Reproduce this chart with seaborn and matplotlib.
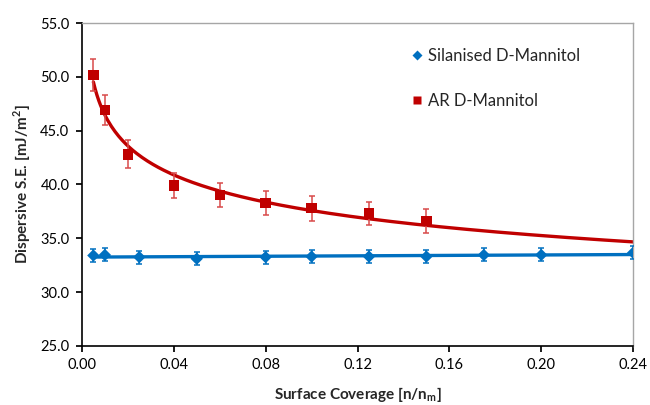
import numpy as np
import pandas as pd
import matplotlib
matplotlib.use("Agg")
import matplotlib.pyplot as plt
import seaborn as sns

# Data
sil_x = [0.005, 0.01, 0.025, 0.05, 0.08, 0.10, 0.125, 0.15, 0.175, 0.20, 0.24]
sil_y = [33.4, 33.45, 33.25, 33.1, 33.25, 33.3, 33.3, 33.3, 33.45, 33.45, 33.65]
sil_err = [0.6, 0.6, 0.6, 0.6, 0.6, 0.6, 0.6, 0.6, 0.6, 0.6, 0.6]

ar_x = [0.005, 0.01, 0.02, 0.04, 0.06, 0.08, 0.10, 0.125, 0.15]
ar_y = [50.2, 46.95, 42.8, 39.9, 39.0, 38.3, 37.8, 37.3, 36.6]
ar_err = [1.5, 1.4, 1.3, 1.2, 1.1, 1.1, 1.15, 1.1, 1.1]

xticks = [0.00, 0.04, 0.08, 0.12, 0.16, 0.20, 0.24]
yticks = [25.0, 30.0, 35.0, 40.0, 45.0, 50.0, 55.0]

blue = "#0070C0"
red = "#C00000"

sns.set_theme(style="white")
plt.rcParams['font.family'] = ['Lato', 'DejaVu Sans']
plt.rcParams['mathtext.fontset'] = 'custom'
plt.rcParams['mathtext.bf'] = 'Lato:bold'
plt.rcParams['mathtext.rm'] = 'Lato:bold'

fig = plt.figure(figsize=(6.5, 4.05), dpi=100)
ax = fig.add_axes([0.126, 0.146, 0.848, 0.797])

# trendlines (fits computed from the data)
xs = np.linspace(0.005, 0.24, 300)
b, loga = np.polyfit(np.log(ar_x), np.log(ar_y), 1)
red_fit = np.exp(loga) * xs ** b
m, c = np.polyfit(sil_x, sil_y, 1)
blue_fit = m * xs + c
fit_df = pd.DataFrame({"x": np.concatenate([xs, xs]),
                       "y": np.concatenate([blue_fit, red_fit]),
                       "s": ["Silanised D-Mannitol"] * len(xs) + ["AR D-Mannitol"] * len(xs)})
sns.lineplot(data=fit_df, x="x", y="y", hue="s", palette=[blue, red], ax=ax,
             linewidth=2.4, legend=False)

# error bars
ax.errorbar(sil_x, sil_y, yerr=sil_err, fmt="none", ecolor=blue, elinewidth=1.1,
            capsize=2.5, capthick=1.1, zorder=3)
ax.errorbar(ar_x, ar_y, yerr=ar_err, fmt="none", ecolor="#D84A4A", elinewidth=1.1,
            capsize=2.5, capthick=1.1, zorder=3)

sil_df = pd.DataFrame({"x": sil_x, "y": sil_y, "s": "Silanised D-Mannitol"})
ar_df = pd.DataFrame({"x": ar_x, "y": ar_y, "s": "AR D-Mannitol"})
sns.scatterplot(data=sil_df, x="x", y="y", hue="s", palette=[blue], marker="D",
                s=40, edgecolor="none", ax=ax, zorder=4)
sns.scatterplot(data=ar_df, x="x", y="y", hue="s", palette=[red], marker="s",
                s=55, edgecolor="none", ax=ax, zorder=4)

ax.set_xlim(0, 0.24)
ax.set_ylim(25, 55)
ax.set_xticks(xticks)
ax.set_xticklabels([f"{t:.2f}" for t in xticks])
ax.set_yticks(yticks)
ax.set_yticklabels([f"{t:.1f}" for t in yticks])
ax.tick_params(axis="both", labelsize=10.5, colors="black", length=4, direction="out",
               bottom=True, left=True, pad=5)
ax.tick_params(axis="x", pad=5)

for side in ["left", "bottom"]:
    ax.spines[side].set_color("black")
    ax.spines[side].set_linewidth(1.2)
for side in ["top", "right"]:
    ax.spines[side].set_color("#A6A6A6")
    ax.spines[side].set_linewidth(1.0)

ax.set_xlabel(r"Surface Coverage [n/n$_\mathbf{m}$]", fontsize=11, fontweight="bold", labelpad=9)
ax.set_ylabel(r"Dispersive S.E. [mJ/m$^\mathbf{2}$]", fontsize=11, fontweight="bold", labelpad=5)

leg = ax.legend(loc="upper left", bbox_to_anchor=(0.562, 0.97), frameon=False,
                fontsize=12, handletextpad=0.1, labelspacing=1.75, markerscale=0.85,
                handlelength=1.2)

fig.savefig("out.png", dpi=100)
